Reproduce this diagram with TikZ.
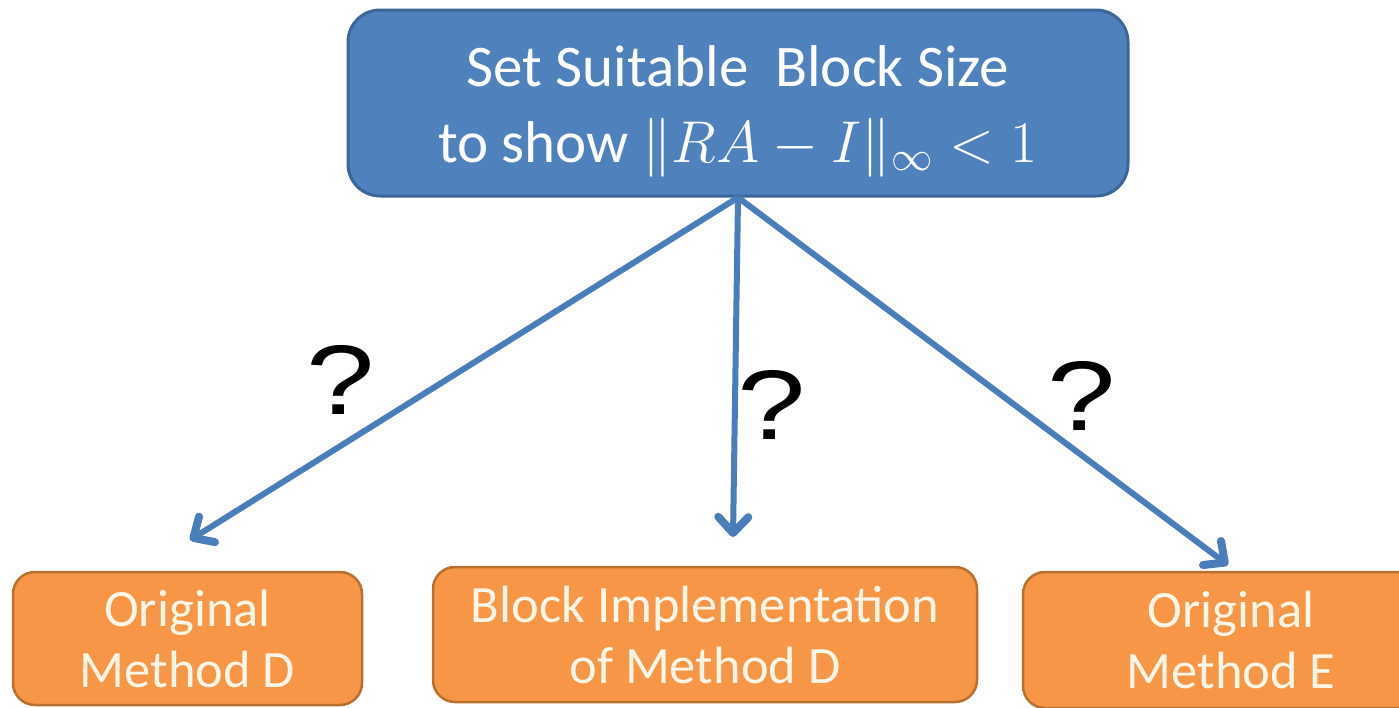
\RequirePackage{fix-cm}
\documentclass[tikz,border=0pt]{standalone}
\usepackage{fontspec}
\setmainfont{Carlito}
\newfontfamily\qfont{Liberation Sans}
\usetikzlibrary{arrows.meta}

\definecolor{topfill}{HTML}{4F81BD}
\definecolor{topline}{HTML}{3A669A}
\definecolor{subfill}{HTML}{F79646}
\definecolor{subline}{HTML}{B8702F}
\definecolor{subtext}{HTML}{FFF6E8}
\definecolor{arrowblue}{HTML}{4A7EBB}

\tikzset{
  topbox/.style={draw=topline, line width=3pt, fill=topfill, rounded corners=32pt,
    inner sep=0pt},
  toptext/.style={inner sep=0pt, align=center, text=white,
    font=\fontsize{59}{76}\selectfont},
  subbox/.style={draw=subline, line width=2.5pt, fill=subfill, rounded corners=22pt,
    inner sep=0pt, align=center, text=subtext,
    font=\fontsize{52.5}{61}\selectfont},
  conn/.style={draw=arrowblue, line width=6pt,
    -{Straight Barb[length=16pt, width=30pt, line width=8pt, round]}},
  query/.style={inner sep=0pt, font=\qfont\fontsize{96}{96}\selectfont}
}

\begin{document}
\begin{tikzpicture}[x=1pt, y=-1pt]
  \useasboundingbox (0,0) rectangle (1399,707);

  % goal box and its two-line caption
  \node[topbox, minimum width=780pt, minimum height=186pt] (goal) at (738,103) {};
  \node[toptext] (goaltext) at (738,111)
    {Set Suitable\ \ Block Size\\to show $\|RA-I\|_\infty<1$};

  % candidate methods
  \node[subbox, minimum width=349pt, minimum height=133pt] (origD) at (187.5,638.5)
    {Original\\Method D};
  \node[subbox, minimum width=544pt, minimum height=135pt] (blockD) at (705,634.5)
    {Block Implementation\\of Method D};
  \node[subbox, minimum width=416pt, minimum height=136pt] (origE) at (1231,640)
    {Original\\Method E};

  % arrow ends, short of the boxes
  \coordinate (endL) at (190,540);
  \coordinate (endC) at (733,537);
  \coordinate (endR) at (1228,565);

  \draw[conn] (goal.south) -- (endL);
  \draw[conn] (goal.south) -- (endC);
  \draw[conn] (goal.south) -- (endR);

  % open questions
  \node[query] (qL) at (341,380) {\scalebox{1.28}[1.03]{?}};
  \node[query] (qC) at (772,405) {\scalebox{1.28}[1.03]{?}};
  \node[query] (qR) at (1082,396) {\scalebox{1.28}[1.03]{?}};
\end{tikzpicture}
\end{document}
